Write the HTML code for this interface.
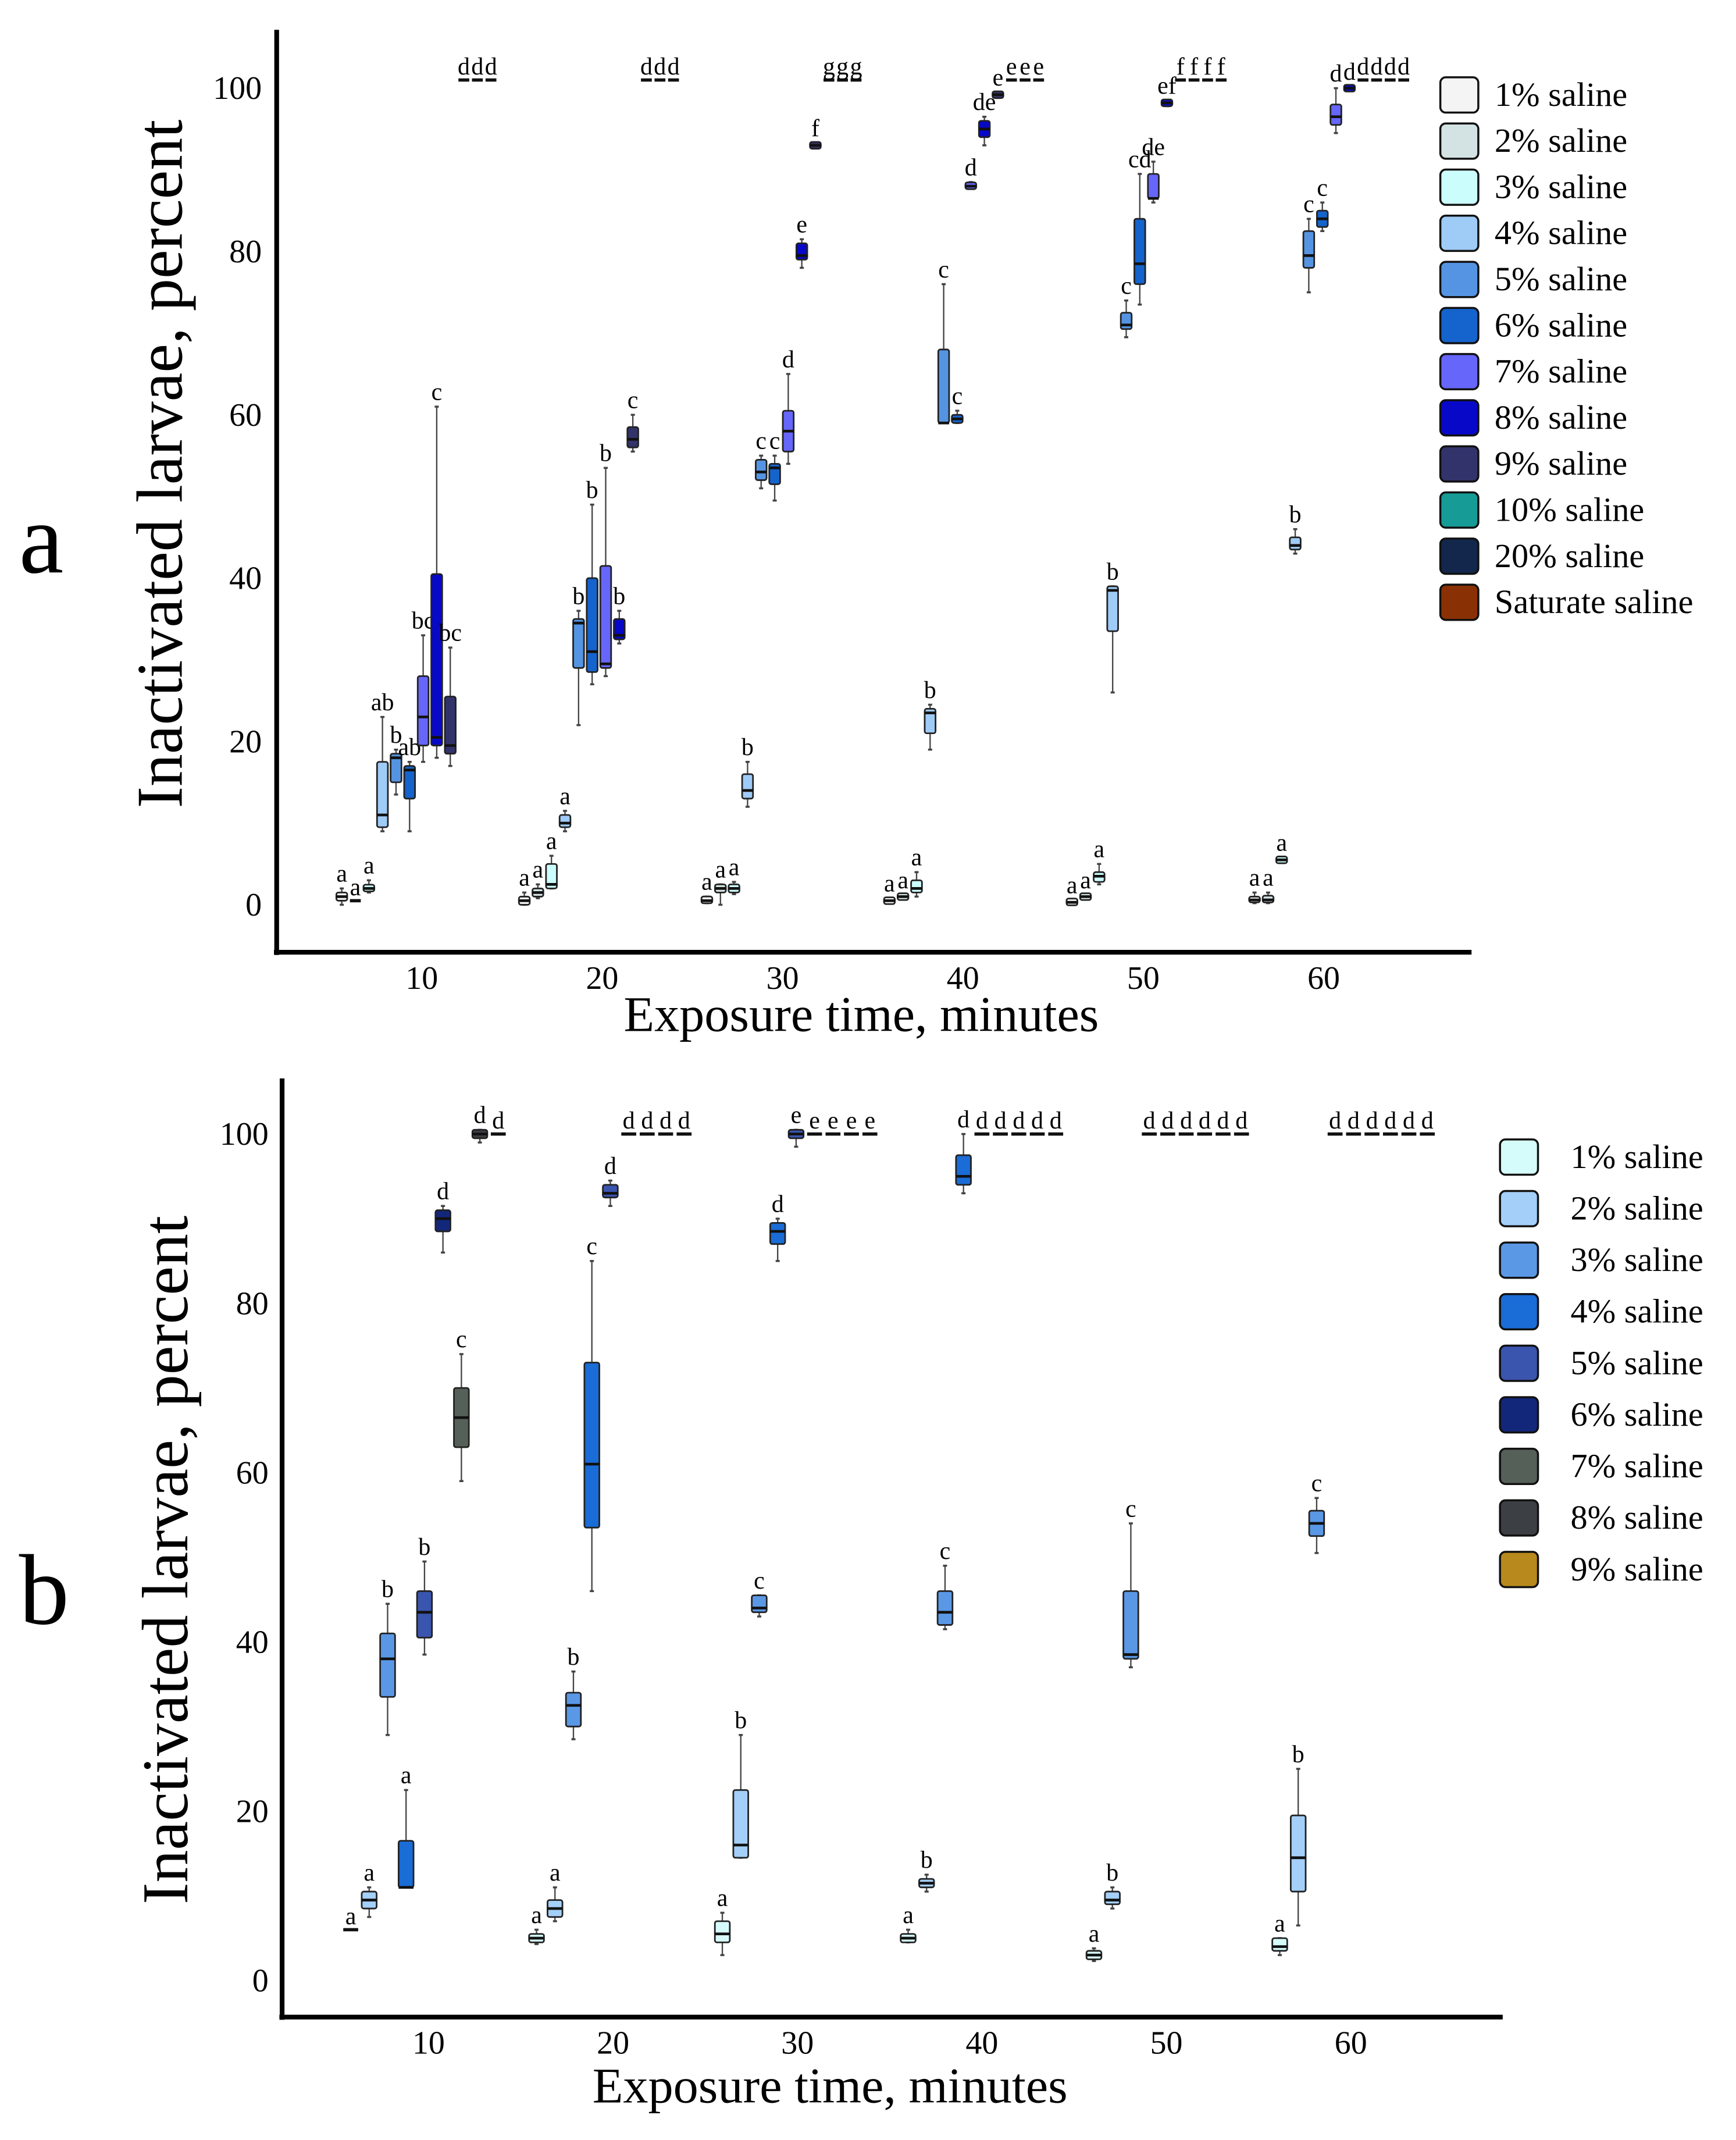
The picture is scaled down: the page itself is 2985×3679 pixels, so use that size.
<!DOCTYPE html>
<html><head><meta charset="utf-8"><style>
html,body{margin:0;padding:0;background:#fff;}
svg{display:block;font-family:"Liberation Serif",serif;}
</style></head><body>
<svg id="chart" width="2985" height="3679" viewBox="0 0 1280 1577.6" preserveAspectRatio="none" xmlns="http://www.w3.org/2000/svg">
<rect width="1280" height="1577.6" fill="#fff"/>
<g id="pa"></g>
<g id="pb"></g>
</svg>
<script>
// ---------- Panel a data ----------
const aSeriesNames=["1% saline","2% saline","3% saline","4% saline","5% saline","6% saline","7% saline","8% saline","9% saline","10% saline","20% saline","Saturate saline"];
const aColors=["#f4f4f4","#d3e2e2","#ccfdfd","#9fcbf7","#5594e2","#1563cc","#6666fa","#0808c8","#33336b","#169b97","#13264b","#8a3005"];
const aTimes=[10,20,30,40,50,60];
const aMin=[0,0.5,1.5,9,13.5,9,17.5,18,17,101,101,101,
0,0.8,2,9,22,27,28,32,55.5,101,101,101,
0.2,0,1.3,12,51,49.5,54,78,92.7,101,101,101,
0.2,0.8,1,19,59,59,87.7,93,98.8,101,101,101,
0,0.8,2.5,26,69.5,73.5,86,97.8,101,101,101,101,
0.2,0.2,5.2,43,75,82.5,94.5,99.8,101,101,101,101];
const aQ1=[0.5,0.5,1.8,9.5,15,13,19.5,19.5,18.5,101,101,101,
0,1,2,9.5,29,28.5,29,32.5,56,101,101,101,
0.4,1.5,1.5,13,52,51.5,55.5,79,92.8,101,101,101,
0.3,0.9,1.5,21,59,59,87.8,94,99,101,101,101,
0.2,0.9,2.8,33.5,70.5,76,86.5,98,101,101,101,101,
0.3,0.4,5.3,43.5,78,83,95.5,99.9,101,101,101,101];
const aMed=[1,0.5,2,11,18,16.5,23,20.5,19.5,101,101,101,
0.5,1.5,2.5,10,34.5,31,29.5,33,57,101,101,101,
0.5,2,2,14,53,53.5,58,79.5,93,101,101,101,
0.5,1,2,23.5,59,59.5,88,95,99.2,101,101,101,
0.3,1,3.5,38.5,71,78.5,86.5,98.2,101,101,101,101,
0.6,0.6,5.5,44,79.5,84,96.5,100,101,101,101,101];
const aQ3=[1.5,0.5,2.3,17.5,18.5,17,28,40.5,25.5,101,101,101,
1,2,5,11,35,40,41.5,35,58.5,101,101,101,
0.8,2.5,2.5,16,54.5,54,60.5,81,93.2,101,101,101,
0.7,1.1,3,24,68,60,88.3,96,99.4,101,101,101,
0.5,1.1,4,39,72.5,84,89.5,98.4,101,101,101,101,
1,1,5.7,45,82.5,85,98,100.1,101,101,101,101];
const aMax=[2,0.5,3,23,19,17.5,33,61,31.5,101,101,101,
1.5,2.5,6,11.5,36,49,53.5,36,60,101,101,101,
1,2.5,2.8,17.5,55,55,65,81.5,93.3,101,101,101,
0.8,1.2,4,24.5,76,60.5,88.5,96.5,99.5,101,101,101,
0.6,1.2,5,39,74,89.5,91,98.5,101,101,101,101,
1.5,1.5,5.8,46,84,86,100,100.2,101,101,101,101];
const aLabels=["a","a","a","ab","b","ab","bc","c","bc","d","d","d",
"a","a","a","a","b","b","b","b","c","d","d","d",
"a","a","a","b","c","c","d","e","f","g","g","g",
"a","a","a","b","c","c","d","de","e","e","e","e",
"a","a","a","b","c","cd","de","ef","f","f","f","f",
"a","a","a","b","c","c","d","d","d","d","d","d"];
const aYTicks=[0,20,40,60,80,100];

// ---------- Panel b data ----------
const bSeriesNames=["1% saline","2% saline","3% saline","4% saline","5% saline","6% saline","7% saline","8% saline","9% saline"];
const bColors=["#d6fbfb","#a4cff8","#5a98e6","#1a6cd6","#3a55ae","#13277a","#556058","#3c3f44","#b8891c"];
const bTimes=[10,20,30,40,50,60];
const bMin=[6,7.5,29,11,38.5,86,59,99,100,
4.3,7,28.5,46,91.5,100,100,100,100,
3,14.5,43,85,98.5,100,100,100,100,
4.5,10.5,41.5,93,100,100,100,100,100,
2.3,8.5,37,100,100,100,100,100,100,
3,6.5,50.5,100,100,100,100,100,100];
const bQ1=[6,8.5,33.5,11,40.5,88.5,63,99.5,100,
4.5,7.5,30,53.5,92.5,100,100,100,100,
4.5,14.5,43.5,87,99.5,100,100,100,100,
4.5,11,42,94,100,100,100,100,100,
2.5,9,38,100,100,100,100,100,100,
3.5,10.5,52.5,100,100,100,100,100,100];
const bMed=[6,9.5,38,11,43.5,90,66.5,100,100,
5,8.5,32.5,61,93,100,100,100,100,
5.5,16,44,88.5,100,100,100,100,100,
5,11.5,43.5,95,100,100,100,100,100,
3,9.5,38.5,100,100,100,100,100,100,
4,14.5,54,100,100,100,100,100,100];
const bQ3=[6,10.5,41,16.5,46,91,70,100.5,100,
5.5,9.5,34,73,94,100,100,100,100,
7,22.5,45.5,89.5,100.5,100,100,100,100,
5.5,12,46,97.5,100,100,100,100,100,
3.5,10.5,46,100,100,100,100,100,100,
5,19.5,55.5,100,100,100,100,100,100];
const bMax=[6,11,44.5,22.5,49.5,91.5,74,100.5,100,
6,11,36.5,85,94.5,100,100,100,100,
8,29,45.5,90,100.5,100,100,100,100,
6,12.5,49,100,100,100,100,100,100,
3.8,11,54,100,100,100,100,100,100,
5,25,57,100,100,100,100,100,100];
const bLabels=["a","a","b","a","b","d","c","d","d",
"a","a","b","c","d","d","d","d","d",
"a","b","c","d","e","e","e","e","e",
"a","b","c","d","d","d","d","d","d",
"a","b","c","d","d","d","d","d","d",
"a","b","c","d","d","d","d","d","d"];
const bYTicks=[0,20,40,60,80,100];

const NS="http://www.w3.org/2000/svg";
function mk(parent,tag,attrs,text){const e=document.createElementNS(NS,tag);for(const k in attrs)e.setAttribute(k,attrs[k]);if(text!==undefined)e.textContent=text;parent.appendChild(e);return e;}

function drawPanel(g,cfg){
  const {names,colors,times,mn,q1,md,q3,mx,labels,yTicks,y,x,xt,axisX,axisY0,axisY1,axisRight,bw,legX,legY,legStep,legTextX,letter,letterX,letterY,ytitleX,ytitleY,xtitleX,xtitleY,tickLabelX}=cfg;
  const n=names.length;
  let l=mk(g,'line',{x1:axisX,y1:axisY0,x2:axisX,y2:axisY1+2,stroke:'#000','stroke-width':3.5});
  
  
  l=mk(g,'line',{x1:axisX-2,y1:axisY1,x2:axisRight,y2:axisY1,stroke:'#000','stroke-width':3.5});
  
  
  yTicks.forEach(v=>{const t=mk(g,'text',{x:tickLabelX,y:y(v)+8,'font-size':24,'text-anchor':'end'},String(v));
    
    });
  times.forEach(tm=>{const t=mk(g,'text',{x:xt(tm),y:axisY1+27,'font-size':24,'text-anchor':'middle'},String(tm));
    
    });
  let t=mk(g,'text',{x:ytitleX,y:ytitleY,'font-size':48,'text-anchor':'middle',transform:`rotate(-90 ${ytitleX} ${ytitleY})`},'Inactivated larvae, percent');
  
  
  t=mk(g,'text',{x:xtitleX,y:xtitleY,'font-size':37,'text-anchor':'middle'},'Exposure time, minutes');
  
  
  t=mk(g,'text',{x:letterX,y:letterY,'font-size':74},letter);
  
  
  for(let i=0;i<mn.length;i++){
    const s=i%n, tm=times[Math.floor(i/n)];
    const cx=x(tm,s);
    const bg=mk(g,'g',{});
    
    
    const flat=(q3[i]-q1[i])<0.3 && (mx[i]-mn[i])<0.3;
    if(flat){
      mk(bg,'rect',{x:cx-bw/2,y:y(md[i])-1.2,width:bw,height:2.4,fill:'#111'});
    } else {
      mk(bg,'line',{x1:cx,y1:y(mx[i]),x2:cx,y2:y(mn[i]),stroke:'#444','stroke-width':1});
      mk(bg,'line',{x1:cx-1.5,y1:y(mx[i]),x2:cx+1.5,y2:y(mx[i]),stroke:'#444','stroke-width':1.5});
      mk(bg,'line',{x1:cx-1.5,y1:y(mn[i]),x2:cx+1.5,y2:y(mn[i]),stroke:'#444','stroke-width':1.5});
      let top=y(q3[i]),bot=y(q1[i]);
      if(bot-top<4){const m=(top+bot)/2;top=m-2.5;bot=m+2.5;}
      mk(bg,'rect',{x:cx-bw/2,y:top,width:bw,height:bot-top,fill:colors[s],stroke:'#222','stroke-width':1.2,rx:1.5});
      mk(bg,'line',{x1:cx-bw/2,y1:y(md[i]),x2:cx+bw/2,y2:y(md[i]),stroke:'#111','stroke-width':2});
    }
    const lab=mk(g,'text',{x:cx,y:y(mx[i])-(flat?4:5),'font-size':18,'text-anchor':'middle'},labels[i]);
    
    
  }
  names.forEach((nm,s)=>{
    const lg=mk(g,'g',{});
    
    
    const cy=legY+s*legStep;
    mk(lg,'rect',{x:legX,y:cy-13,width:28,height:26,rx:4,fill:colors[s],stroke:'#111','stroke-width':1.5});
    mk(lg,'text',{x:legTextX,y:cy+8,'font-size':25},nm);
  });
}

drawPanel(document.getElementById('pa'),{
  names:aSeriesNames,colors:aColors,times:aTimes,mn:aMin,q1:aQ1,md:aMed,q3:aQ3,mx:aMax,labels:aLabels,yTicks:aYTicks,
  y:v=>667-v*6.02, x:(t,s)=>312+(t-10)*13.46+(s-6)*10, xt:t=>311+(t-10)*13.3,
  axisX:204,axisY0:22,axisY1:702,axisRight:1085,bw:8,
  legX:1062,legY:70,legStep:34,legTextX:1102,letter:'a',letterX:14,letterY:422,
  ytitleX:134,ytitleY:342,xtitleX:635,xtitleY:760,tickLabelX:193
});
drawPanel(document.getElementById('pb'),{
  names:bSeriesNames,colors:bColors,times:bTimes,mn:bMin,q1:bQ1,md:bMed,q3:bQ3,mx:bMax,labels:bLabels,yTicks:bYTicks,
  y:v=>1460-v*6.24, x:(t,s)=>313+(t-10)*13.7+(s-4)*13.6, xt:t=>316+(t-10)*13.6,
  axisX:208,axisY0:795,axisY1:1487,axisRight:1108,bw:11,
  legX:1106,legY:853,legStep:38,legTextX:1158,letter:'b',letterX:14,letterY:1197,
  ytitleX:138,ytitleY:1150,xtitleX:612,xtitleY:1550,tickLabelX:198
});
</script>
</body></html>
